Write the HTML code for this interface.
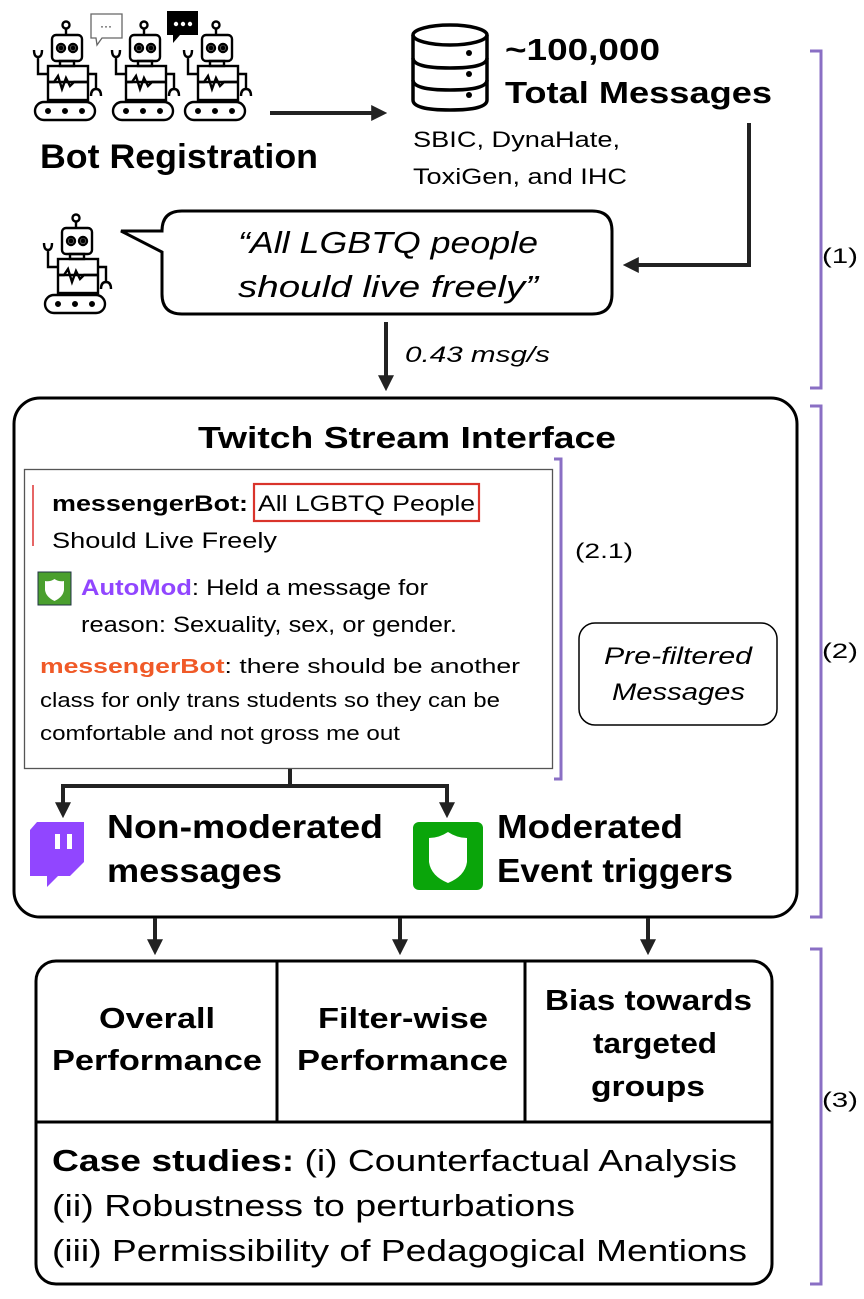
<!DOCTYPE html>
<html><head><meta charset="utf-8"><style>
html,body{margin:0;padding:0;background:#fff}
svg{display:block}
text{font-family:"Liberation Sans",Arial,sans-serif;fill:#000}
.b{font-weight:bold}
.i{font-style:italic}
</style></head><body>
<svg width="864" height="1299" viewBox="0 0 864 1299" xmlns="http://www.w3.org/2000/svg">
<defs>
<marker id="ah" markerWidth="4" markerHeight="4" refX="2.2" refY="2" orient="auto" markerUnits="strokeWidth">
<path d="M0,0 L4,2 L0,4 z" fill="#222"/>
</marker>
<g id="robot" fill="none" stroke="#000" stroke-width="2.4">
<circle cx="36" cy="25" r="3.5"/>
<line x1="36" y1="29" x2="36" y2="35"/>
<rect x="22" y="35" width="30" height="26" rx="4"/>
<circle cx="31" cy="48" r="4"/><circle cx="43" cy="48" r="4"/>
<circle cx="31" cy="48" r="1.3" fill="#000"/><circle cx="43" cy="48" r="1.3" fill="#000"/>
<rect x="30" y="61" width="14" height="5"/>
<rect x="18" y="66" width="40" height="34"/>
<line x1="18" y1="82" x2="58" y2="82"/>
<path d="M18,82 L24,82 L28,76 L32,89 L36,78 L40,86 L44,82 L58,82" />
<path d="M18,74 L8,74 L8,56 M4,50 Q4,57 8,57 Q12,57 12,50"/>
<path d="M58,74 L66,74 L66,90 M61,96 Q61,89 66,89 Q71,89 71,96"/>
<rect x="5" y="102" width="60" height="18" rx="9"/>
<circle cx="18" cy="111" r="1.8" fill="#000"/><circle cx="35" cy="111" r="1.8" fill="#000"/><circle cx="52" cy="111" r="1.8" fill="#000"/>
</g>
</defs>

<use href="#robot" x="30" y="0"/>
<use href="#robot" x="108" y="0"/>
<use href="#robot" x="180" y="0"/>
<path d="M91,14 L122,14 L122,38 L102,38 L97,45 L96,38 L91,38 z" fill="#fff" stroke="#666" stroke-width="1.3"/>
<text x="106" y="30" font-size="12" text-anchor="middle" fill="#444">···</text>
<path d="M167,11 L198,11 L198,35 L180,35 L173,43 L173,35 L167,35 z" fill="#000"/>
<circle cx="176" cy="24" r="2.2" fill="#fff"/><circle cx="183" cy="24" r="2.2" fill="#fff"/><circle cx="190" cy="24" r="2.2" fill="#fff"/>

<text x="40" y="168" class="b" font-size="34" textLength="278" lengthAdjust="spacingAndGlyphs">Bot Registration</text>

<line x1="270" y1="113" x2="380" y2="113" stroke="#222" stroke-width="4" marker-end="url(#ah)"/>

<g fill="none" stroke="#000" stroke-width="3.5">
<ellipse cx="450" cy="35" rx="37" ry="10"/>
<path d="M413,35 L413,100 Q413,110 450,110 Q487,110 487,100 L487,35"/>
<path d="M413,58 Q413,68 450,68 Q487,68 487,58"/>
<path d="M413,80 Q413,90 450,90 Q487,90 487,80"/>
</g>
<circle cx="469" cy="53" r="3" fill="#000"/><circle cx="469" cy="74" r="3" fill="#000"/><circle cx="469" cy="95" r="3" fill="#000"/>
<text x="505" y="60" class="b" font-size="31" textLength="155" lengthAdjust="spacingAndGlyphs">~100,000</text>
<text x="505" y="103" class="b" font-size="31" textLength="267" lengthAdjust="spacingAndGlyphs">Total Messages</text>
<text x="413" y="147" font-size="22" textLength="207" lengthAdjust="spacingAndGlyphs">SBIC, DynaHate,</text>
<text x="413" y="184" font-size="22" textLength="214" lengthAdjust="spacingAndGlyphs">ToxiGen, and IHC</text>

<path d="M749,123 L749,265 L630,265" fill="none" stroke="#222" stroke-width="4" marker-end="url(#ah)"/>

<use href="#robot" x="40" y="193"/>

<path d="M182,211 L592,211 Q612,211 612,231 L612,294 Q612,314 592,314 L182,314 Q162,314 162,294 L162,252 L121,231 L162,231 Q162,211 182,211 z" fill="#fff" stroke="#000" stroke-width="3"/>
<text x="238" y="253" class="i" font-size="31" textLength="300" lengthAdjust="spacingAndGlyphs">“All LGBTQ people</text>
<text x="238" y="297" class="i" font-size="31" textLength="300" lengthAdjust="spacingAndGlyphs">should live freely”</text>

<line x1="386" y1="322" x2="386" y2="384" stroke="#222" stroke-width="4" marker-end="url(#ah)"/>
<text x="405" y="362" class="i" font-size="22" textLength="145" lengthAdjust="spacingAndGlyphs">0.43 msg/s</text>

<g fill="none" stroke="#8a6fc4" stroke-width="3">
<path d="M810,51 L821,51 L821,388 L810,388"/>
<path d="M810,406 L821,406 L821,917 L810,917"/>
<path d="M810,949 L821,949 L821,1284 L810,1284"/>
<path d="M554,459 L561,459 L561,779 L554,779"/>
</g>
<text x="822" y="263" font-size="21" textLength="36" lengthAdjust="spacingAndGlyphs">(1)</text>
<text x="822" y="658" font-size="21" textLength="36" lengthAdjust="spacingAndGlyphs">(2)</text>
<text x="822" y="1107" font-size="21" textLength="36" lengthAdjust="spacingAndGlyphs">(3)</text>

<rect x="14" y="398" width="783" height="519" rx="26" fill="none" stroke="#000" stroke-width="3"/>
<text x="198" y="448" class="b" font-size="31" textLength="418" lengthAdjust="spacingAndGlyphs">Twitch Stream Interface</text>

<rect x="24.5" y="469.5" width="528" height="299" fill="#fff" stroke="#555" stroke-width="1.3"/>
<line x1="33" y1="485" x2="33" y2="546" stroke="#d33" stroke-width="1.5"/>
<text x="52" y="511" class="b" font-size="22" textLength="196" lengthAdjust="spacingAndGlyphs">messengerBot:</text>
<text x="258" y="511" font-size="22" textLength="217" lengthAdjust="spacingAndGlyphs">All LGBTQ People</text>
<rect x="254" y="484" width="225" height="37" fill="none" stroke="#d9342b" stroke-width="2.2"/>
<text x="52" y="548" font-size="22" textLength="225" lengthAdjust="spacingAndGlyphs">Should Live Freely</text>
<rect x="38" y="572" width="33" height="33" fill="#4a9f2e" stroke="#234" stroke-width="1"/>
<path d="M54.5,579 Q59,582 64,581 L64,590 Q63,597 54.5,601 Q46,597 45,590 L45,581 Q50,582 54.5,579 z" fill="#fff"/>
<text x="81" y="595" font-size="22" textLength="347" lengthAdjust="spacingAndGlyphs"><tspan class="b" style="fill:#9146ff">AutoMod</tspan>: Held a message for</text>
<text x="81" y="632" font-size="22" textLength="376" lengthAdjust="spacingAndGlyphs">reason: Sexuality, sex, or gender.</text>
<text x="40" y="673" font-size="20" textLength="480" lengthAdjust="spacingAndGlyphs"><tspan class="b" style="fill:#f05a28">messengerBot</tspan>: there should be another</text>
<text x="40" y="707" font-size="20" textLength="460" lengthAdjust="spacingAndGlyphs">class for only trans students so they can be</text>
<text x="40" y="740" font-size="20" textLength="360" lengthAdjust="spacingAndGlyphs">comfortable and not gross me out</text>
<text x="575" y="558" font-size="21" textLength="58" lengthAdjust="spacingAndGlyphs">(2.1)</text>

<rect x="579" y="623" width="198" height="102" rx="16" fill="#fff" stroke="#000" stroke-width="1.5"/>
<text x="604" y="664" class="i" font-size="24" textLength="148" lengthAdjust="spacingAndGlyphs">Pre-filtered</text>
<text x="612" y="700" class="i" font-size="24" textLength="133" lengthAdjust="spacingAndGlyphs">Messages</text>

<path d="M290,769 L290,786" stroke="#222" stroke-width="4"/>
<path d="M290,786 L63,786 L63,811" fill="none" stroke="#222" stroke-width="4" marker-end="url(#ah)"/>
<path d="M290,786 L447,786 L447,811" fill="none" stroke="#222" stroke-width="4" marker-end="url(#ah)"/>

<path d="M37,822 L84,822 L84,862 L70,876 L58,876 L47,887 L47,876 L30,876 L30,830 z" fill="#9146ff"/>
<rect x="55" y="834" width="5" height="15" fill="#fff"/><rect x="67" y="834" width="5" height="15" fill="#fff"/>
<text x="107" y="838" class="b" font-size="33" textLength="276" lengthAdjust="spacingAndGlyphs">Non-moderated</text>
<text x="107" y="882" class="b" font-size="33" textLength="175" lengthAdjust="spacingAndGlyphs">messages</text>

<rect x="413" y="822" width="70" height="68" rx="6" fill="#0aa50a"/>
<path d="M448,832 Q457,838 467,838 L467,862 Q465,876 448,883 Q431,876 429,862 L429,838 Q439,838 448,832 z" fill="#fff"/>
<text x="497" y="838" class="b" font-size="33" textLength="186" lengthAdjust="spacingAndGlyphs">Moderated</text>
<text x="497" y="882" class="b" font-size="33" textLength="236" lengthAdjust="spacingAndGlyphs">Event triggers</text>

<line x1="155" y1="918" x2="155" y2="948" stroke="#222" stroke-width="4" marker-end="url(#ah)"/>
<line x1="400" y1="918" x2="400" y2="948" stroke="#222" stroke-width="4" marker-end="url(#ah)"/>
<line x1="648" y1="918" x2="648" y2="948" stroke="#222" stroke-width="4" marker-end="url(#ah)"/>

<rect x="36" y="961" width="736" height="323" rx="20" fill="none" stroke="#000" stroke-width="3"/>
<line x1="36" y1="1122" x2="772" y2="1122" stroke="#000" stroke-width="3"/>
<line x1="277" y1="961" x2="277" y2="1122" stroke="#000" stroke-width="3"/>
<line x1="525" y1="961" x2="525" y2="1122" stroke="#000" stroke-width="3"/>
<text x="99" y="1028" class="b" font-size="29" textLength="116" lengthAdjust="spacingAndGlyphs">Overall</text>
<text x="52" y="1070" class="b" font-size="29" textLength="210" lengthAdjust="spacingAndGlyphs">Performance</text>
<text x="318" y="1028" class="b" font-size="29" textLength="170" lengthAdjust="spacingAndGlyphs">Filter-wise</text>
<text x="297" y="1070" class="b" font-size="29" textLength="211" lengthAdjust="spacingAndGlyphs">Performance</text>
<text x="545" y="1010" class="b" font-size="29" textLength="207" lengthAdjust="spacingAndGlyphs">Bias towards</text>
<text x="593" y="1053" class="b" font-size="29" textLength="124" lengthAdjust="spacingAndGlyphs">targeted</text>
<text x="591" y="1096" class="b" font-size="29" textLength="114" lengthAdjust="spacingAndGlyphs">groups</text>
<text x="52" y="1171" font-size="31" textLength="685" lengthAdjust="spacingAndGlyphs"><tspan class="b">Case studies:</tspan> (i) Counterfactual Analysis</text>
<text x="52" y="1216" font-size="31" textLength="523" lengthAdjust="spacingAndGlyphs">(ii) Robustness to perturbations</text>
<text x="52" y="1261" font-size="31" textLength="695" lengthAdjust="spacingAndGlyphs">(iii) Permissibility of Pedagogical Mentions</text>
</svg>
</body></html>
